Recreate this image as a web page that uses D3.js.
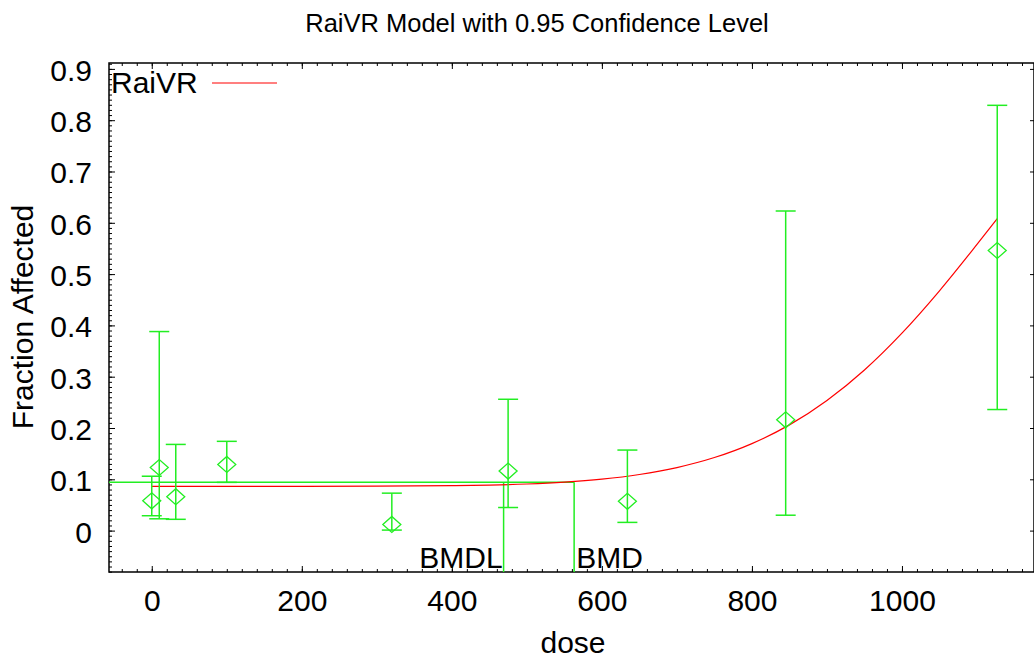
<!DOCTYPE html>
<html>
<head>
<meta charset="utf-8">
<script src="https://cdn.jsdelivr.net/npm/d3@7"></script>
<style>
  body { margin: 0; background: #fff; }
  text { font-family: "Liberation Sans", Arial, sans-serif; fill: #000; }
</style>
</head>
<body>
<div id="chart"></div>
<script>
// dose-response data
var doses     = [0, 10, 32, 100, 320, 475, 634, 845, 1127];
var fractions = [0.058, 0.123, 0.066, 0.129, 0.012, 0.116, 0.057, 0.216, 0.546];
var lowerCI   = [0.029, 0.023, 0.022, 0.094, 0.001, 0.045, 0.016, 0.030, 0.236];
var upperCI   = [0.106, 0.388, 0.168, 0.174, 0.073, 0.256, 0.157, 0.623, 0.829];

// fitted RaiVR curve
var curveDose = [0, 100, 200, 300, 400, 450, 500, 550, 600, 650, 700, 750, 800, 850, 900, 950, 1000, 1050, 1100, 1127];
var curveFrac = [0.0864, 0.0864, 0.0864, 0.0866, 0.0875, 0.0886, 0.0908, 0.0944, 0.1002, 0.1093, 0.1229, 0.1424, 0.1696, 0.2061, 0.2537, 0.3132, 0.385, 0.4675, 0.5579, 0.608];

var bmdl = 469, bmd = 563, bmrLevel = 0.0942;

var xTicks = [0, 200, 400, 600, 800, 1000];
var yTicks = [0, 0.1, 0.2, 0.3, 0.4, 0.5, 0.6, 0.7, 0.8, 0.9];

var width = 1034,
    height = 660;

// plot box (can't call it "top", that's window.top)
var pLeft = 109, pRight = 1034, pTop = 63, pBottom = 572;

var x = d3.scaleLinear().domain([-57, 1176]).range([pLeft, pRight]);
var y = d3.scaleLinear().domain([-0.0807, 0.9115]).range([pBottom, pTop]);

var svg = d3.select("#chart").append("svg")
    .attr("width", width)
    .attr("height", height);

var green = "#22ee22";
var big = "30px";

// minor ticks
var xMinor = d3.range(-40, 1180, 20);
var yMinor = d3.range(-8, 92).map(function(d) { return d / 100; });

svg.append("g")
  .attr("transform", "translate(0," + pBottom + ")")
  .call(d3.axisBottom(x).tickValues(xMinor).tickSize(-3).tickFormat(""))
  .call(function(g) { g.select(".domain").remove(); });
svg.append("g")
  .attr("transform", "translate(0," + pTop + ")")
  .call(d3.axisTop(x).tickValues(xMinor).tickSize(-3).tickFormat(""))
  .call(function(g) { g.select(".domain").remove(); });
svg.append("g")
  .attr("transform", "translate(" + pLeft + ",0)")
  .call(d3.axisLeft(y).tickValues(yMinor).tickSize(-3).tickFormat(""))
  .call(function(g) { g.select(".domain").remove(); });

// major ticks + labels
svg.append("g")
  .attr("transform", "translate(0," + pBottom + ")")
  .call(d3.axisBottom(x).tickValues(xTicks).tickSize(-6).tickPadding(18).tickFormat(d3.format("d")))
  .call(function(g) { g.select(".domain").remove(); })
  .selectAll("text").style("font-size", big).attr("font-family", null);
svg.append("g")
  .attr("transform", "translate(0," + pTop + ")")
  .call(d3.axisTop(x).tickValues(xTicks).tickSize(-6).tickFormat(""))
  .call(function(g) { g.select(".domain").remove(); });
svg.append("g")
  .attr("transform", "translate(" + pLeft + ",0)")
  .call(d3.axisLeft(y).tickValues(yTicks).tickSize(-6).tickPadding(17).tickFormat(d3.format("")))
  .call(function(g) { g.select(".domain").remove(); })
  .selectAll("text").style("font-size", big).attr("font-family", null).attr("dy", "0.38em");
svg.append("g")
  .attr("transform", "translate(" + pRight + ",0)")
  .call(d3.axisRight(y).tickValues(yTicks).tickSize(-4).tickFormat(""))
  .call(function(g) { g.select(".domain").remove(); });

// frame
svg.append("path")
  .attr("d", "M" + pLeft + "," + pTop + "H" + pRight + "V" + pBottom + "H" + pLeft + "Z")
  .attr("fill", "none")
  .attr("stroke", "#000")
  .attr("stroke-width", 1.5);

// BMD / BMDL markers
svg.append("line")
  .attr("x1", pLeft).attr("x2", x(bmd))
  .attr("y1", y(bmrLevel)).attr("y2", y(bmrLevel))
  .attr("stroke", green).attr("stroke-width", 1.5);
svg.append("line")
  .attr("x1", x(bmd)).attr("x2", x(bmd))
  .attr("y1", y(bmrLevel)).attr("y2", pBottom)
  .attr("stroke", green).attr("stroke-width", 1.5);
svg.append("line")
  .attr("x1", x(bmdl)).attr("x2", x(bmdl))
  .attr("y1", y(bmrLevel)).attr("y2", pBottom)
  .attr("stroke", green).attr("stroke-width", 1.5);

svg.append("text")
  .attr("x", x(bmdl) - 1).attr("y", 568)
  .attr("text-anchor", "end")
  .style("font-size", big)
  .text("BMDL");
svg.append("text")
  .attr("x", x(bmd) + 2).attr("y", 568)
  .style("font-size", big)
  .text("BMD");

// fitted curve
var curveData = curveDose.map(function(d, i) { return [d, curveFrac[i]]; });
svg.append("path")
  .datum(curveData)
  .attr("d", d3.line()
    .x(function(d) { return x(d[0]); })
    .y(function(d) { return y(d[1]); })
    .curve(d3.curveMonotoneX))
  .attr("fill", "none")
  .attr("stroke", "#ff0000")
  .attr("stroke-width", 1.2);

// error bars
var pts = doses.map(function(d, i) {
  return { dose: d, frac: fractions[i], lo: lowerCI[i], hi: upperCI[i] };
});

var bars = svg.selectAll(".ebar")
  .data(pts)
  .enter().append("g")
  .attr("class", "ebar")
  .attr("stroke", green)
  .attr("stroke-width", 1.5)
  .attr("fill", "none");

bars.append("line")
  .attr("x1", function(d) { return x(d.dose); })
  .attr("x2", function(d) { return x(d.dose); })
  .attr("y1", function(d) { return y(d.lo); })
  .attr("y2", function(d) { return y(d.hi); });
bars.append("line")
  .attr("x1", function(d) { return x(d.dose) - 10; })
  .attr("x2", function(d) { return x(d.dose) + 10; })
  .attr("y1", function(d) { return y(d.hi); })
  .attr("y2", function(d) { return y(d.hi); });
bars.append("line")
  .attr("x1", function(d) { return x(d.dose) - 10; })
  .attr("x2", function(d) { return x(d.dose) + 10; })
  .attr("y1", function(d) { return y(d.lo); })
  .attr("y2", function(d) { return y(d.lo); });

// diamonds
bars.append("path")
  .attr("d", function(d) {
    var cx = x(d.dose), cy = y(d.frac);
    return "M" + (cx - 9) + "," + cy + "L" + cx + "," + (cy - 8) +
      "L" + (cx + 9) + "," + cy + "L" + cx + "," + (cy + 8) + "Z";
  })
  .attr("stroke-width", 1.3);

// legend
svg.append("text")
  .attr("x", 111).attr("y", 93)
  .style("font-size", big)
  .text("RaiVR");
svg.append("line")
  .attr("x1", 212).attr("x2", 277)
  .attr("y1", 83).attr("y2", 83)
  .attr("stroke", "#ff5555")
  .attr("stroke-width", 1.5);

// titles
svg.append("text")
  .attr("x", 537).attr("y", 32)
  .attr("text-anchor", "middle")
  .style("font-size", "25.5px")
  .text("RaiVR Model with 0.95 Confidence Level");

svg.append("text")
  .attr("x", 573).attr("y", 653)
  .attr("text-anchor", "middle")
  .style("font-size", big)
  .text("dose");

svg.append("text")
  .attr("transform", "translate(33,317) rotate(-90)")
  .attr("text-anchor", "middle")
  .style("font-size", big)
  .text("Fraction Affected");
</script>
</body>
</html>
